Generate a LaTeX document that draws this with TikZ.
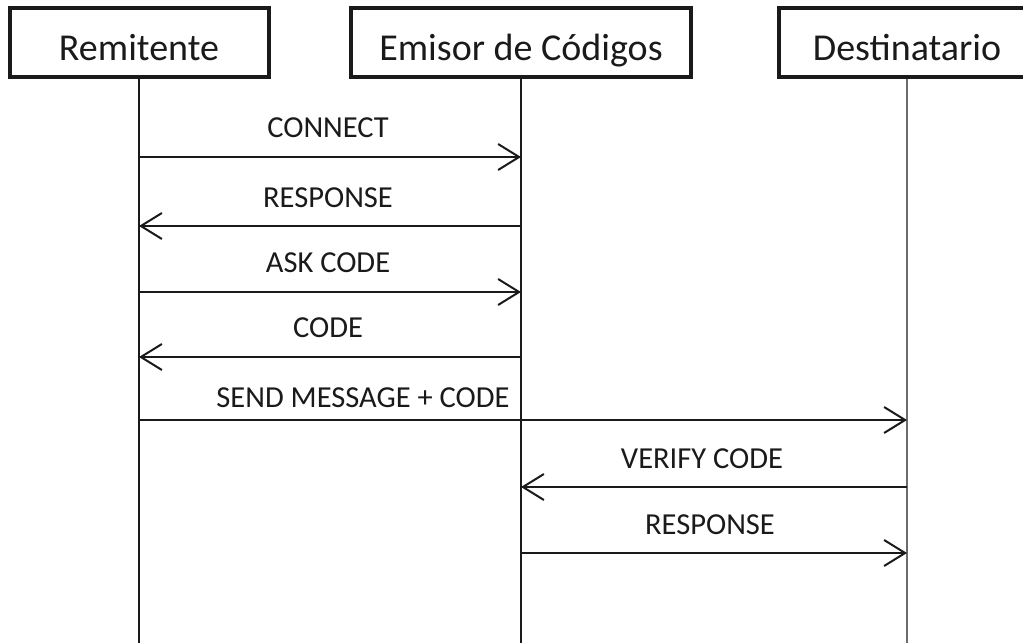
\documentclass[tikz,border=0pt]{standalone}
\usepackage{fontspec}
\setmainfont{Carlito}
\usetikzlibrary{arrows.meta}
\definecolor{ink}{HTML}{1A1A1A}
\begin{document}
\begin{tikzpicture}[x=1pt,y=-1pt,
  actor/.style={draw=ink, line width=4pt, minimum height=69pt, inner sep=0pt,
    text height=40pt, text depth=5pt, font=\fontsize{38}{44}\selectfont, text=ink},
  life/.style={draw=ink, line width=2pt},
  msg/.style={draw=ink, line width=2pt, -{Straight Barb[length=21pt,width=26pt,line width=2pt]}},
  lbl/.style={font=\fontsize{30.5}{36}\selectfont, text=ink, inner sep=0pt}]
\useasboundingbox (0,0) rectangle (1023,643);
\clip (0,0) rectangle (1023,643);
\coordinate (bot) at (0,643);
% actors
\node[actor, minimum width=259pt] (rem) at (139,42.5) {Remitente};
\node[actor, minimum width=340pt] (emi) at (521,42.5) {Emisor de Códigos};
\node[actor, minimum width=256pt] (des) at (907,42.5) {Destinatario};
% lifelines
\draw[life] (rem.south) -- (rem.south |- bot);
\draw[life] (emi.south) -- (emi.south |- bot);
\draw[life, draw=gray!85!black] (des.south) -- (des.south |- bot);
% message end points
\coordinate (y1) at (0,157);
\coordinate (y2) at (0,226);
\coordinate (y3) at (0,292);
\coordinate (y4) at (0,357);
\coordinate (y5) at (0,420);
\coordinate (y6) at (0,487);
\coordinate (y7) at (0,553);
\coordinate (r1) at (rem.south |- y1); \coordinate (e1) at (emi.south |- y1);
\coordinate (r2) at (rem.south |- y2); \coordinate (e2) at (emi.south |- y2);
\coordinate (r3) at (rem.south |- y3); \coordinate (e3) at (emi.south |- y3);
\coordinate (r4) at (rem.south |- y4); \coordinate (e4) at (emi.south |- y4);
\coordinate (r5) at (rem.south |- y5); \coordinate (d5) at (des.south |- y5);
\coordinate (e6) at (emi.south |- y6); \coordinate (d6) at (des.south |- y6);
\coordinate (e7) at (emi.south |- y7); \coordinate (d7) at (des.south |- y7);
% messages
\draw[msg] (r1) -- (e1);
\draw[msg] (e2) -- (r2);
\draw[msg] (r3) -- (e3);
\draw[msg] (e4) -- (r4);
\draw[msg] (r5) -- (d5);
\draw[msg] (d6) -- (e6);
\draw[msg] (e7) -- (d7);
% labels
\node[lbl] (t1) at (328,128) {CONNECT};
\node[lbl] (t2) at (328,198) {RESPONSE};
\node[lbl] (t3) at (328,263) {ASK CODE};
\node[lbl] (t4) at (328,328) {CODE};
\node[lbl] (t5) at (363,398) {SEND MESSAGE + CODE};
\node[lbl] (t6) at (702,459) {VERIFY CODE};
\node[lbl] (t7) at (710,525) {RESPONSE};
\end{tikzpicture}
\end{document}
